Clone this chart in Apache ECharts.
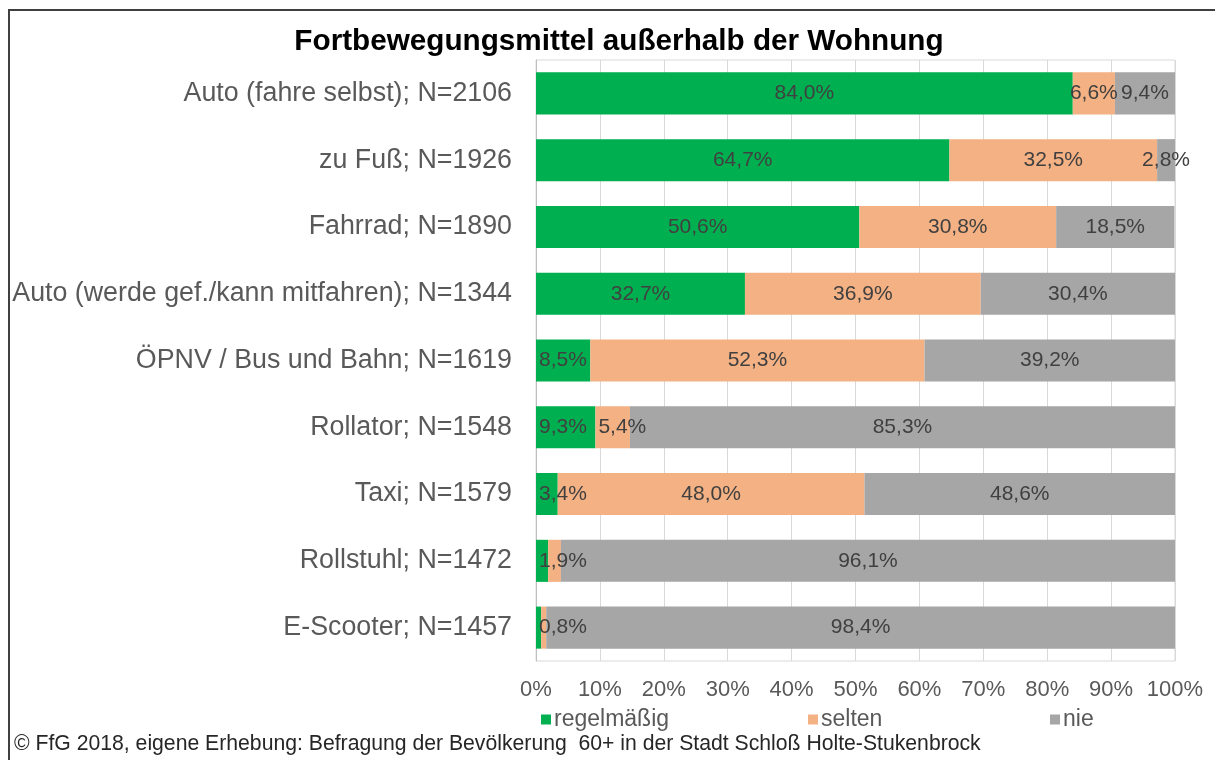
<!DOCTYPE html>
<html>
<head>
<meta charset="utf-8">
<script src="https://cdn.jsdelivr.net/npm/echarts@6/dist/echarts.min.js"></script>
<style>
  html, body { margin: 0; padding: 0; background: #fff; }
  #chart { width: 1215px; height: 760px; }
</style>
</head>
<body>
<div id="chart"></div>
<script>
const categories = [
  'Auto (fahre selbst); N=2106',
  'zu Fuß; N=1926',
  'Fahrrad; N=1890',
  'Auto (werde gef./kann mitfahren); N=1344',
  'ÖPNV / Bus und Bahn; N=1619',
  'Rollator; N=1548',
  'Taxi; N=1579',
  'Rollstuhl; N=1472',
  'E-Scooter; N=1457'
]
const regelmaessig = [84.0, 64.7, 50.6, 32.7, 8.5, 9.3, 3.4, 1.9, 0.8]
const selten = [6.6, 32.5, 30.8, 36.9, 52.3, 5.4, 48.0, 2.0, 0.8]
const nie = [9.4, 2.8, 18.5, 30.4, 39.2, 85.3, 48.6, 96.1, 98.4]
const xTicks = [0, 10, 20, 30, 40, 50, 60, 70, 80, 90, 100]

const fontFamily = '"Liberation Sans", Arial, sans-serif'
const textGrey = '#595959'
const labelGrey = '#404040'

const fmt = (v) => `${v.toFixed(1).replace('.', ',')}%`

// small segments: label pushed to the left edge, tiny orange ones hidden (as in the source)
function items(values, leftBelow, hideBelow) {
  return values.map((v) => {
    if (v < hideBelow) return { value: v, label: { show: false } }
    if (v < leftBelow) return { value: v, label: { position: 'insideLeft', distance: 3 } }
    return v
  })
}

const barLabel = {
  show: true,
  position: 'inside',
  color: labelGrey,
  fontFamily,
  fontSize: 21,
  formatter: (p) => fmt(p.value)
}

const chart = echarts.init(document.getElementById('chart'))

chart.setOption({
  animation: false,
  backgroundColor: '#fff',
  title: {
    text: 'Fortbewegungsmittel außerhalb der Wohnung',
    left: 614,
    textAlign: 'center',
    top: 22,
    textStyle: { fontFamily, fontSize: 29.7, fontWeight: 'bold', color: '#000' }
  },
  legend: [
    { name: 'regelmäßig', x: 536 },
    { name: 'selten', x: 803 },
    { name: 'nie', x: 1045 }
  ].map((l) => ({
    data: [l.name],
    left: l.x,
    top: 703,
    icon: 'rect',
    itemWidth: 10,
    itemHeight: 10,
    itemGap: 0,
    textStyle: { fontFamily, fontSize: 23, color: textGrey, padding: [0, 0, 0, -2] }
  })),
  grid: {
    left: 536,
    right: 40,
    top: 60,
    bottom: 99,
    show: true,
    borderColor: '#d9d9d9',
    borderWidth: 1
  },
  xAxis: {
    type: 'value',
    min: xTicks[0],
    max: xTicks[xTicks.length - 1],
    interval: xTicks[1] - xTicks[0],
    axisLine: { show: false },
    axisTick: { show: false },
    axisLabel: {
      color: textGrey,
      fontFamily,
      fontSize: 22,
      margin: 18,
      formatter: '{value}%'
    },
    splitLine: { lineStyle: { color: '#d9d9d9', width: 1 } }
  },
  yAxis: {
    type: 'category',
    inverse: true,
    data: categories,
    axisLine: { lineStyle: { color: '#bfbfbf' } },
    axisTick: { alignWithLabel: true, length: 5, lineStyle: { color: '#bfbfbf' } },
    axisLabel: { color: textGrey, fontFamily, fontSize: 26.8, margin: 24 }
  },
  series: [
    {
      name: 'regelmäßig',
      type: 'bar',
      stack: 'all',
      barCategoryGap: '37%',
      itemStyle: { color: '#00b050' },
      label: barLabel,
      data: items(regelmaessig, 10, 0)
    },
    {
      name: 'selten',
      type: 'bar',
      stack: 'all',
      itemStyle: { color: '#f4b183' },
      label: barLabel,
      data: items(selten, 6, 2.5)
    },
    {
      name: 'nie',
      type: 'bar',
      stack: 'all',
      itemStyle: { color: '#a6a6a6' },
      label: barLabel,
      data: items(nie, 0, 0)
    }
  ],
  graphic: [
    {
      type: 'polyline',
      shape: { points: [[9, 760], [9, 10], [1215, 10]] },
      style: { stroke: '#404040', lineWidth: 2, fill: null }
    },
    {
      type: 'text',
      left: 14,
      top: 734,
      style: {
        text: '© FfG 2018, eigene Erhebung: Befragung der Bevölkerung  60+ in der Stadt Schloß Holte-Stukenbrock',
        font: `21.2px ${fontFamily}`,
        fill: '#262626'
      }
    }
  ]
})
</script>
</body>
</html>
